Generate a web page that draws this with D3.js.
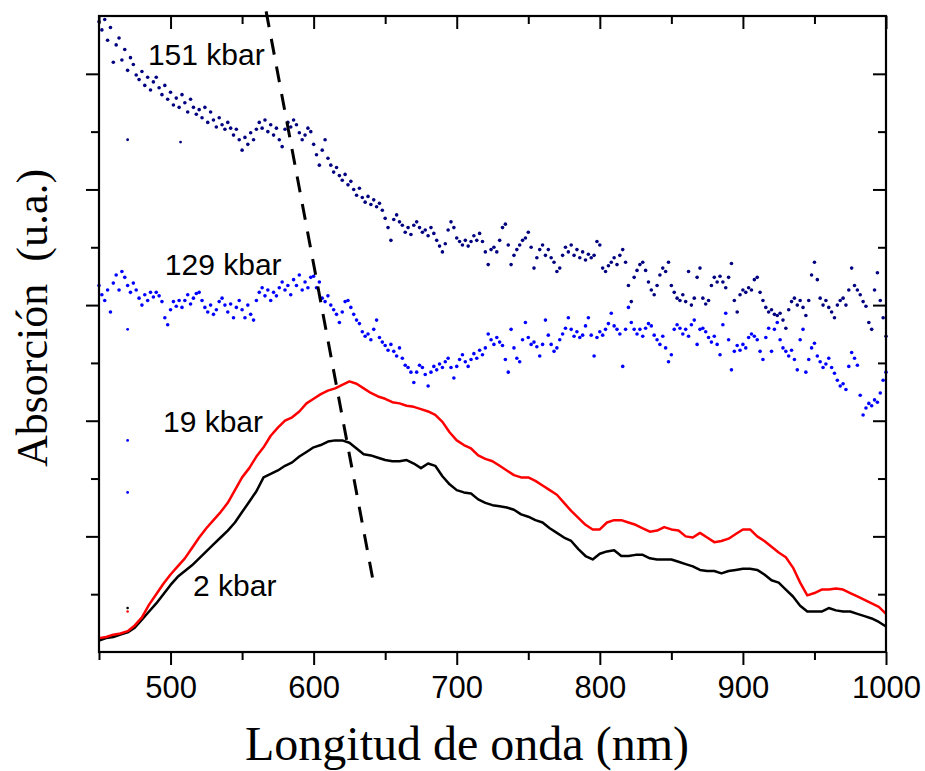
<!DOCTYPE html>
<html><head><meta charset="utf-8">
<script src="https://cdn.jsdelivr.net/npm/d3@7"></script>
<style>body{margin:0;background:#fff;} svg{display:block}</style>
</head><body>
<svg id="chart" width="925" height="771"></svg>
<script>
// ---------- data ----------
const xMajorTicks = [500, 600, 700, 800, 900, 1000];
const xMinorTicks = [450, 550, 650, 750, 850, 950];
const yMajorTicks = [1, 2, 3, 4, 5];
const yMinorTicks = [0.5, 1.5, 2.5, 3.5, 4.5];

const seriesNames = ["2 kbar", "19 kbar", "129 kbar", "151 kbar"];

// solid curves, sampled every 5 nm from 450 nm
const lineStart = 450, lineStep = 5;
const kbar2 = [
0.10,0.12,0.13,0.15,0.17,0.21,0.28,0.35,0.42,0.50,
0.58,0.65,0.70,0.75,0.81,0.87,0.93,0.99,1.05,1.12,
1.21,1.30,1.39,1.51,1.54,1.57,1.61,1.64,1.69,1.73,
1.77,1.79,1.82,1.83,1.83,1.81,1.76,1.71,1.70,1.68,
1.66,1.65,1.65,1.66,1.63,1.59,1.63,1.61,1.52,1.45,
1.40,1.38,1.37,1.32,1.29,1.27,1.26,1.25,1.23,1.19,
1.17,1.14,1.12,1.07,1.03,0.99,0.96,0.89,0.83,0.80,
0.85,0.87,0.88,0.83,0.83,0.84,0.84,0.81,0.80,0.80,
0.80,0.78,0.76,0.74,0.71,0.70,0.70,0.68,0.70,0.71,
0.72,0.72,0.71,0.67,0.62,0.60,0.54,0.48,0.40,0.35,
0.35,0.35,0.38,0.36,0.35,0.35,0.33,0.31,0.29,0.26,
0.22];
const kbar19 = [
0.12,0.13,0.15,0.16,0.18,0.23,0.30,0.41,0.50,0.59,
0.67,0.74,0.81,0.90,0.99,1.07,1.14,1.21,1.29,1.40,
1.51,1.59,1.69,1.77,1.87,1.94,2.00,2.03,2.08,2.15,
2.19,2.23,2.26,2.28,2.31,2.34,2.32,2.28,2.24,2.21,
2.19,2.16,2.15,2.13,2.12,2.10,2.08,2.05,1.99,1.90,
1.83,1.79,1.76,1.70,1.67,1.65,1.61,1.57,1.53,1.51,
1.51,1.48,1.44,1.40,1.36,1.29,1.22,1.16,1.10,1.06,
1.06,1.12,1.14,1.14,1.12,1.10,1.07,1.04,1.05,1.08,
1.06,1.05,1.00,0.99,1.03,0.99,0.95,0.96,0.98,1.02,
1.06,1.06,1.00,0.96,0.91,0.86,0.82,0.73,0.60,0.49,
0.51,0.54,0.54,0.55,0.54,0.51,0.48,0.45,0.42,0.39,
0.33];

// dotted curves, sampled every 2 nm from 450 nm
const dotStart = 450, dotStep = 2;
const kbar129 = [
3.17,3.09,3.04,3.13,2.94,3.19,3.26,3.13,3.29,3.24,
3.17,3.11,3.19,3.13,3.06,3.00,3.09,3.04,3.11,3.07,
3.11,3.08,3.03,2.89,2.83,2.96,3.03,2.99,3.04,2.98,
3.04,3.09,3.01,3.06,3.10,3.11,3.04,2.98,2.94,3.00,
2.92,2.96,3.03,3.06,3.00,2.94,3.01,2.89,2.98,3.04,
2.96,2.89,3.00,2.92,2.87,3.04,3.11,3.15,3.08,3.13,
3.04,3.11,3.08,3.15,3.20,3.13,3.17,3.09,3.22,3.17,
3.26,3.13,3.20,3.15,3.24,3.25,3.15,3.20,3.06,3.03,
3.08,3.00,2.96,2.92,2.85,2.94,3.03,3.04,2.98,2.92,
2.87,2.84,2.77,2.73,2.75,2.70,2.79,2.87,2.72,2.68,
2.65,2.61,2.66,2.60,2.56,2.63,2.54,2.48,2.46,2.42,
2.33,2.42,2.48,2.46,2.40,2.30,2.42,2.47,2.44,2.49,
2.46,2.51,2.54,2.46,2.37,2.47,2.53,2.57,2.51,2.47,
2.53,2.58,2.54,2.61,2.57,2.63,2.75,2.70,2.66,2.72,
2.68,2.65,2.53,2.42,2.79,2.63,2.54,2.51,2.70,2.85,
2.72,2.66,2.68,2.64,2.56,2.66,2.87,2.74,2.66,2.60,
2.63,2.70,2.75,2.80,2.89,2.79,2.73,2.77,2.72,2.74,
2.82,2.89,2.74,2.56,2.72,2.77,2.74,2.79,2.84,2.93,
2.82,2.79,2.75,2.47,2.79,2.98,2.85,2.79,2.75,2.79,
2.73,2.80,2.84,2.82,2.74,2.70,2.66,2.73,2.63,2.51,
2.57,2.79,2.83,2.80,2.75,2.79,2.73,2.83,2.87,2.66,
2.79,2.80,2.77,2.72,2.68,2.73,2.66,2.57,2.83,2.93,
2.70,2.44,2.60,2.65,2.61,2.66,2.63,2.72,2.75,2.73,
2.70,2.60,2.53,2.72,2.80,2.60,2.79,2.85,2.70,2.63,
2.60,2.56,2.61,2.53,2.44,2.70,2.79,2.42,2.53,2.63,
2.67,2.56,2.51,2.46,2.49,2.54,2.46,2.41,2.35,2.30,
2.32,2.27,2.47,2.59,2.54,2.48,2.22,2.05,2.11,2.15,
2.13,2.18,2.16,2.24,2.35,2.42];
const kbar151 = [
5.45,5.38,5.47,5.29,5.40,5.10,5.25,5.31,5.12,5.21,
5.03,5.14,5.08,4.99,4.95,5.02,4.90,4.97,4.86,4.93,
4.97,4.88,4.82,4.90,4.78,4.84,4.73,4.79,4.71,4.82,
4.75,4.67,4.78,4.71,4.65,4.69,4.62,4.71,4.58,4.67,
4.60,4.54,4.62,4.56,4.52,4.58,4.53,4.47,4.52,4.43,
4.34,4.45,4.39,4.49,4.43,4.52,4.58,4.53,4.60,4.50,
4.56,4.47,4.53,4.43,4.37,4.52,4.58,4.54,4.60,4.56,
4.49,4.43,4.47,4.53,4.50,4.39,4.30,4.21,4.34,4.43,
4.27,4.21,4.15,4.19,4.12,4.08,4.13,4.04,4.07,4.00,
3.95,4.01,3.93,3.89,3.94,3.87,3.91,3.85,3.88,3.82,
3.75,3.67,3.56,3.74,3.78,3.72,3.69,3.63,3.67,3.61,
3.69,3.72,3.67,3.63,3.65,3.60,3.67,3.62,3.56,3.51,
3.46,3.53,3.65,3.72,3.67,3.58,3.55,3.52,3.56,3.51,
3.55,3.60,3.56,3.62,3.55,3.46,3.35,3.48,3.50,3.46,
3.56,3.67,3.70,3.52,3.35,3.43,3.48,3.52,3.56,3.58,
3.63,3.50,3.32,3.41,3.48,3.52,3.43,3.48,3.41,3.37,
3.29,3.32,3.43,3.50,3.46,3.52,3.43,3.48,3.41,3.46,
3.39,3.44,3.41,3.43,3.55,3.52,3.32,3.29,3.34,3.37,
3.41,3.35,3.43,3.48,3.37,3.17,3.03,3.24,3.30,3.35,
3.37,3.30,3.20,3.13,3.09,3.17,3.26,3.32,3.29,3.37,
3.17,3.11,3.06,3.04,3.09,3.03,3.29,3.00,3.06,3.24,
3.32,3.06,3.01,3.04,3.17,3.24,3.20,3.25,3.20,3.15,
3.24,3.36,3.04,2.94,3.09,3.13,3.11,3.15,3.13,3.22,
3.24,3.11,3.04,2.98,2.94,2.96,2.92,2.91,2.93,2.87,
2.80,2.96,3.03,3.06,3.00,3.04,2.98,2.91,3.04,3.26,
3.37,3.22,3.06,3.00,3.04,2.98,2.94,2.89,3.00,3.04,
3.06,3.00,3.13,3.32,3.17,3.13,3.09,3.03,2.99,2.85,
2.79,3.13,3.28,3.04,2.89,2.73];

// isolated spurious points [nm, value]
const stray2 = [[470, 0.38]];
const stray19 = [[470, 0.35]];
const stray129 = [[470, 2.79], [470, 1.83], [470, 1.38]];
const stray151 = [[470, 4.43], [507, 4.41]];

// dashed guide line (shift of the band maximum) [nm, value]
const shiftLine = [[566.8, 5.54], [641.5, 0.62]];

// ---------- drawing ----------
const svg = d3.select("#chart");
const W = 925, H = 771;
const m = {left: 99, right: 886, top: 16, bottom: 652};
const x = d3.scaleLinear([450, 1000], [m.left, m.right]);
const y = d3.scaleLinear([0, 5.5], [m.bottom, m.top]);

svg.append("rect").attr("width", W).attr("height", H).attr("fill", "#fff");

const toPts = (arr, start, step) => arr.map((v, i) => [start + i * step, v]);

const line = d3.line().x(d => x(d[0])).y(d => y(d[1]));

// curves
const pts2 = toPts(kbar2, lineStart, lineStep);
const pts19 = toPts(kbar19, lineStart, lineStep);
svg.append("path").datum(pts2).attr("d", line)
  .attr("fill", "none").attr("stroke", "#000").attr("stroke-width", 2.5).attr("stroke-linejoin", "round");
svg.append("path").datum(pts19).attr("d", line)
  .attr("fill", "none").attr("stroke", "#ff0000").attr("stroke-width", 2.5).attr("stroke-linejoin", "round");

function dots(data, color, r) {
  svg.append("g").selectAll("circle").data(data).join("circle")
    .attr("cx", d => x(d[0])).attr("cy", d => y(d[1])).attr("r", r).attr("fill", color);
}
dots(toPts(kbar129, dotStart, dotStep), "#0000ff", 1.8);
dots(toPts(kbar151, dotStart, dotStep), "#000080", 1.8);
dots(stray129, "#0000ff", 1.4);
dots(stray151, "#000080", 1.4);
dots(stray2, "#000", 1.3);
dots(stray19, "#ff0000", 1.3);

// dashed line
svg.append("path").datum(shiftLine).attr("d", line)
  .attr("fill", "none").attr("stroke", "#000").attr("stroke-width", 3)
  .attr("stroke-dasharray", "16,12");

// axes
const MAJ = 13, MIN = 8;
function styleAxis(g) { g.select(".domain").remove(); g.selectAll("line").attr("stroke", "#000").attr("stroke-width", 2); }

svg.append("g").attr("transform", `translate(0,${m.bottom})`)
  .call(d3.axisBottom(x).tickValues(xMinorTicks).tickSize(MIN).tickFormat(""))
  .call(styleAxis);
const xb = svg.append("g").attr("transform", `translate(0,${m.bottom})`)
  .call(d3.axisBottom(x).tickValues(xMajorTicks).tickSize(MAJ).tickFormat(d3.format("d")))
  .call(styleAxis);
xb.selectAll("text").attr("y", 46).attr("dy", 0)
  .attr("font-family", "'Liberation Sans', Arial, sans-serif").attr("font-size", 31).attr("fill", "#000");

svg.append("g").attr("transform", `translate(0,${m.top})`)
  .call(d3.axisTop(x).tickValues(xMinorTicks).tickSize(-MIN).tickFormat(""))
  .call(styleAxis);
svg.append("g").attr("transform", `translate(0,${m.top})`)
  .call(d3.axisTop(x).tickValues(xMajorTicks).tickSize(-MAJ).tickFormat(""))
  .call(styleAxis);

svg.append("g").attr("transform", `translate(${m.left},0)`)
  .call(d3.axisLeft(y).tickValues(yMinorTicks).tickSize(MIN).tickFormat(""))
  .call(styleAxis);
svg.append("g").attr("transform", `translate(${m.left},0)`)
  .call(d3.axisLeft(y).tickValues(yMajorTicks).tickSize(MAJ).tickFormat(""))
  .call(styleAxis);
svg.append("g").attr("transform", `translate(${m.right},0)`)
  .call(d3.axisRight(y).tickValues(yMinorTicks).tickSize(-MIN).tickFormat(""))
  .call(styleAxis);
svg.append("g").attr("transform", `translate(${m.right},0)`)
  .call(d3.axisRight(y).tickValues(yMajorTicks).tickSize(-MAJ).tickFormat(""))
  .call(styleAxis);

// frame
svg.append("rect").attr("x", m.left).attr("y", m.top)
  .attr("width", m.right - m.left).attr("height", m.bottom - m.top)
  .attr("fill", "none").attr("stroke", "#000").attr("stroke-width", 2.2);

// series labels
const labelPos = [[515.7, 0.48], [494.7, 1.90], [496, 3.26], [484.2, 5.08]];
svg.append("g").selectAll("text").data(seriesNames).join("text")
  .attr("x", (d, i) => x(labelPos[i][0])).attr("y", (d, i) => y(labelPos[i][1]))
  .attr("font-family", "'Liberation Sans', Arial, sans-serif").attr("font-size", 30)
  .attr("fill", "#000").text(d => d);

// axis titles
svg.append("text").attr("x", 467).attr("y", 760).attr("text-anchor", "middle")
  .attr("font-family", "'Liberation Serif', 'Times New Roman', serif").attr("font-size", 48)
  .attr("fill", "#000").text("Longitud de onda (nm)");
svg.append("text").attr("transform", "translate(47,318) rotate(-90)").attr("text-anchor", "middle")
  .attr("font-family", "'Liberation Serif', 'Times New Roman', serif").attr("font-size", 44)
  .attr("fill", "#000").attr("xml:space", "preserve").style("white-space", "pre")
  .text("Absorción  (u.a.)");
</script>
</body></html>
